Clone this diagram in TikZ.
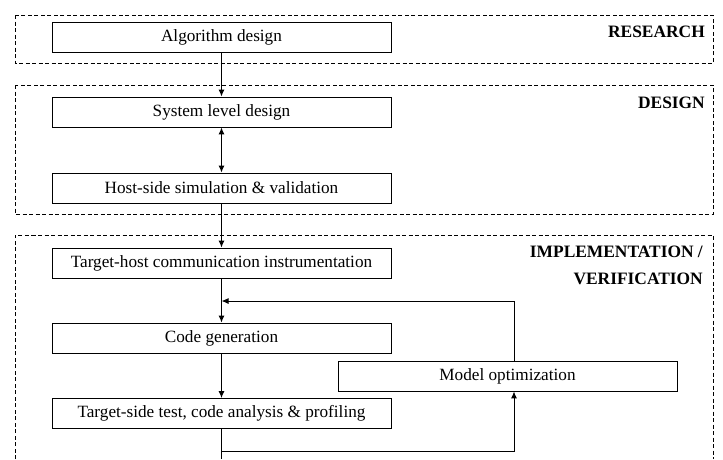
\documentclass[tikz,border=0pt]{standalone}
\usepackage{fontspec}
\setmainfont{Liberation Serif}
\usetikzlibrary{arrows.meta}

\begin{document}
\begin{tikzpicture}[x=1pt,y=-1pt,
    stage/.style={draw, line width=0.9pt, minimum width=339pt, minimum height=30pt, inner sep=0pt, font=\fontsize{17.2}{20}\selectfont},
    phase/.style={draw, line width=0.8pt, dash pattern=on 4pt off 2.5pt},
    title/.style={anchor=east, align=right, inner sep=0pt, font=\fontsize{17.4}{27}\selectfont\bfseries},
    flow/.style={line width=1pt, -{Latex[length=7pt,width=6pt]}}]
    %%%%% START %%%%%
    \useasboundingbox (0,0) rectangle (723,459);

    % phases
    \draw[phase] (15,15) rectangle (713,63);
    \draw[phase] (15,85) rectangle (713,214);
    \draw[phase] (15,459) -- (15,235) -- (713,235) -- (713,459);
    \node[title] (research) at (705,31.5) {RESEARCH};
    \node[title] (design) at (705,102.5) {DESIGN};
    \node[title] (impl) at (703,265) {IMPLEMENTATION /\\VERIFICATION};

    % steps
    \node[stage] (alg) at (221.5,37) {Algorithm design};
    \node[stage] (sys) at (221.5,112) {System level design};
    \node[stage] (host) at (221.5,188) {Host-side simulation \& validation};
    \node[stage] (comm) at (221.5,263) {Target-host communication instrumentation};
    \node[stage] (gen) at (221.5,338) {Code generation};
    \node[stage] (test) at (221.5,413.5) {Target-side test, code analysis \& profiling};
    \node[stage] (opt) at (507.5,376) {Model optimization};

    \coordinate (join) at (221.5,301);
    \coordinate (split) at (221.5,451);
    \coordinate (out) at (221.5,459);

    % arrows
    \draw[flow] (alg) -- (sys);
    \draw[flow, {Latex[length=7pt,width=6pt]}-{Latex[length=7pt,width=6pt]}] (sys) -- (host);
    \draw[flow] (host) -- (comm);
    \draw[flow] (comm) -- (gen);
    \draw[flow] (gen) -- (test);
    \draw[line width=1pt] (test) -- (out);
    \draw[flow] (split) -| ([xshift=6.5pt]opt.south);
    \draw[flow] ([xshift=6.5pt]opt.north) |- (join);
    %%%%% END %%%%%
\end{tikzpicture}
\end{document}
